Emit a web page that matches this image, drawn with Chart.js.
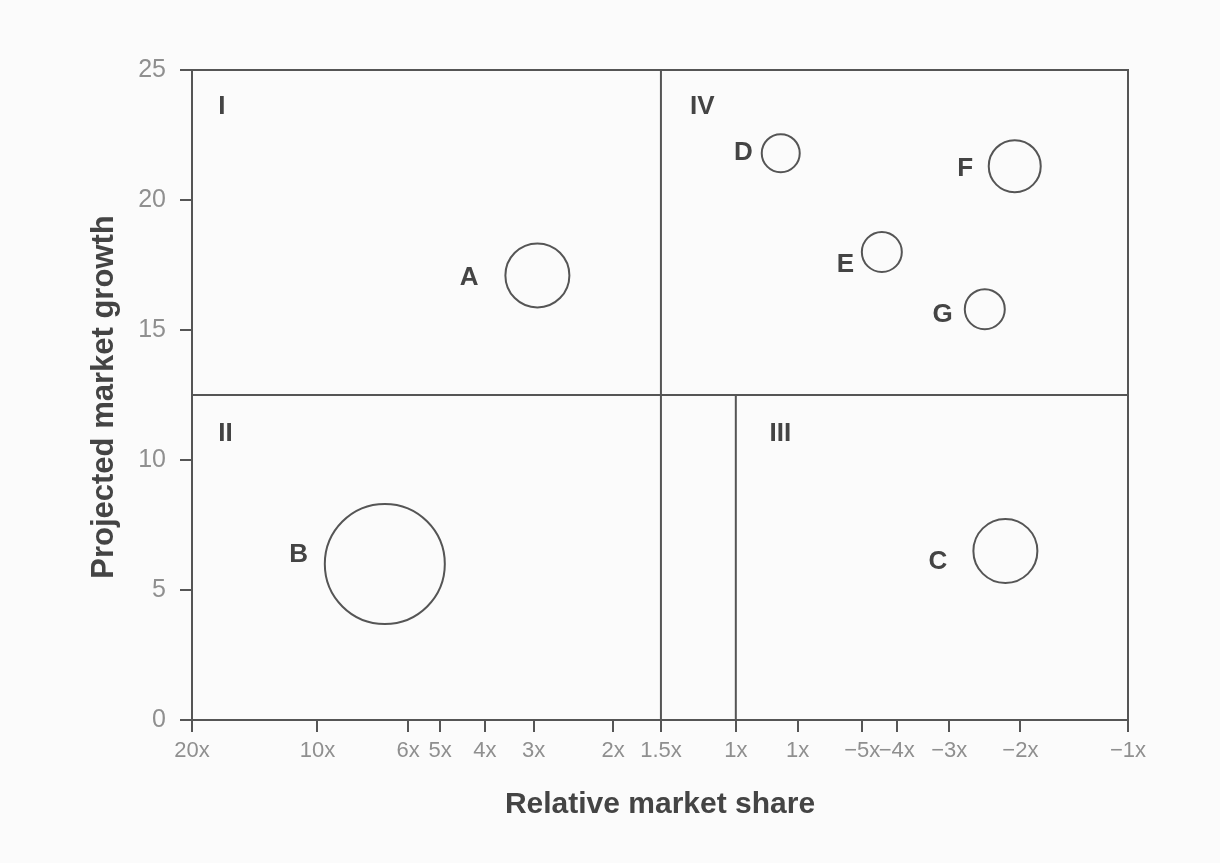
<!DOCTYPE html>
<html>
<head>
<meta charset="utf-8">
<script src="https://cdn.jsdelivr.net/npm/chart.js@4.4.1/dist/chart.umd.min.js"></script>
<style>
  html, body { margin: 0; padding: 0; background: #fbfbfb; }
  #wrap { width: 1220px; height: 863px; position: relative; }
</style>
</head>
<body>
<div id="wrap"><canvas id="matriz"></canvas></div>
<script>
// eixo x: posicoes (0..100) e rotulos de participacao relativa
const tickPos = [0, 13.4, 23.1, 26.5, 31.3, 36.5, 45.0, 50.1, 58.1, 64.7, 71.6, 75.3, 80.9, 88.5, 100];
const tickLabels = ['20x', '10x', '6x', '5x', '4x', '3x', '2x', '1.5x', '1x', '1x', '\u22125x', '\u22124x', '\u22123x', '\u22122x', '\u22121x'];

// unidades de negocio
const nomes = ['A', 'B', 'C', 'D', 'E', 'F', 'G'];
const participacao = [36.9, 20.6, 86.9, 62.9, 73.7, 87.9, 84.7];
const crescimento = [17.1, 6.0, 6.5, 21.8, 18.0, 21.3, 15.8];
const tamanho = [32, 60, 32, 19, 20, 26, 20];

// rotulos das bolhas (coordenadas do grafico)
const rotuloX = [29.6, 11.4, 79.7, 58.9, 69.8, 82.6, 80.2];
const rotuloY = [17.0, 6.35, 6.1, 21.8, 17.5, 21.2, 15.6];

// quadrantes
const quadrantes = ['I', 'IV', 'II', 'III'];
const quadX = [2.8, 53.2, 2.8, 61.7];
const quadY = [23.6, 23.6, 11.0, 11.0];

// divisoes
const divisaoY = 12.5;
const divisaoX1 = 50.1; // 1.5x
const divisaoX2 = 58.1; // 1x

const corLinha = '#555';
const corTexto = '#444';

const pontos = [];
for (let i = 0; i < nomes.length; i++) {
    pontos.push({ x: participacao[i], y: crescimento[i], r: tamanho[i] });
}

const molduraPlugin = {
    id: 'moldura',
    beforeDatasetsDraw(chart) {
        const ctx = chart.ctx;
        const area = chart.chartArea;
        const sx = chart.scales.x;
        const sy = chart.scales.y;
        ctx.save();
        ctx.strokeStyle = corLinha;
        ctx.lineWidth = 2;
        ctx.strokeRect(area.left, area.top, area.right - area.left, area.bottom - area.top);
        ctx.beginPath();
        const yd = sy.getPixelForValue(divisaoY);
        ctx.moveTo(area.left, yd);
        ctx.lineTo(area.right, yd);
        const x1 = sx.getPixelForValue(divisaoX1);
        ctx.moveTo(x1, area.top);
        ctx.lineTo(x1, area.bottom);
        const x2 = sx.getPixelForValue(divisaoX2);
        ctx.moveTo(x2, yd);
        ctx.lineTo(x2, area.bottom);
        ctx.stroke();
        ctx.restore();
    },
    afterDatasetsDraw(chart) {
        const ctx = chart.ctx;
        const sx = chart.scales.x;
        const sy = chart.scales.y;
        ctx.save();
        ctx.fillStyle = corTexto;
        ctx.textAlign = 'center';
        ctx.textBaseline = 'middle';
        ctx.font = 'bold 26px "Liberation Sans", Arial, sans-serif';
        for (let i = 0; i < nomes.length; i++) {
            ctx.fillText(nomes[i], sx.getPixelForValue(rotuloX[i]), sy.getPixelForValue(rotuloY[i]));
        }
        ctx.textAlign = 'left';
        for (let i = 0; i < quadrantes.length; i++) {
            ctx.fillText(quadrantes[i], sx.getPixelForValue(quadX[i]), sy.getPixelForValue(quadY[i]));
        }
        // titulos dos eixos
        ctx.font = 'bold 30px "Liberation Sans", Arial, sans-serif';
        ctx.textAlign = 'center';
        ctx.fillText('Relative market share', 660, 805);
        ctx.font = 'bold 31px "Liberation Sans", Arial, sans-serif';
        ctx.translate(104, 397);
        ctx.rotate(-Math.PI / 2);
        ctx.fillText('Projected market growth', 0, 0);
        ctx.restore();
    }
};

const config = {
    type: 'bubble',
    data: {
        datasets: [{
            label: 'Unidades',
            data: pontos,
            backgroundColor: 'rgba(0,0,0,0)',
            borderColor: corLinha,
            borderWidth: 2,
            hoverBorderWidth: 2,
            hoverRadius: 0
        }]
    },
    options: {
        responsive: true,
        maintainAspectRatio: false,
        animation: false,
        events: [],
        layout: { padding: { top: 70, right: 92, left: 0, bottom: 0 } },
        plugins: { legend: { display: false }, tooltip: { enabled: false } },
        scales: {
            x: {
                type: 'linear',
                min: 0,
                max: 100,
                afterBuildTicks(scale) {
                    scale.ticks = tickPos.map(v => ({ value: v }));
                },
                afterFit(scale) { scale.height = 143; },
                ticks: {
                    autoSkip: false,
                    maxRotation: 0,
                    padding: 6,
                    color: '#8f8f8f',
                    font: { family: '"Liberation Sans", Arial, sans-serif', size: 22 },
                    callback: function (value) {
                        const idx = tickPos.indexOf(value);
                        return idx >= 0 ? tickLabels[idx] : '';
                    }
                },
                grid: { drawOnChartArea: false, drawTicks: true, tickLength: 12, color: corLinha, lineWidth: 2 },
                border: { display: false }
            },
            y: {
                type: 'linear',
                min: 0,
                max: 25,
                afterFit(scale) { scale.width = 192; },
                ticks: {
                    stepSize: 5,
                    padding: 14,
                    color: '#8f8f8f',
                    font: { family: '"Liberation Sans", Arial, sans-serif', size: 25 }
                },
                grid: { drawOnChartArea: false, drawTicks: true, tickLength: 12, color: corLinha, lineWidth: 2 },
                border: { display: false }
            }
        }
    },
    plugins: [molduraPlugin]
};

const ctx = document.getElementById('matriz').getContext('2d');
const grafico = new Chart(ctx, config);
</script>
</body>
</html>
